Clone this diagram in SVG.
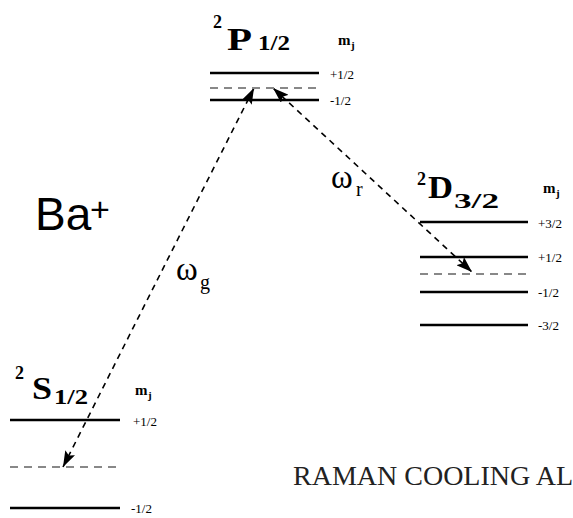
<svg xmlns="http://www.w3.org/2000/svg" width="573" height="518" viewBox="0 0 573 518">
<defs>
<style>
.lvl{stroke:#000;stroke-width:2.5;fill:none}
.vl{stroke:#888;stroke-width:2;stroke-dasharray:8 6;fill:none}
.tr{stroke:#000;stroke-width:1.6;stroke-dasharray:6 5;fill:none}
</style>
<marker id="ah" viewBox="0 0 16 11" refX="16" refY="5.5" markerWidth="16" markerHeight="11" markerUnits="userSpaceOnUse" orient="auto-start-reverse">
<path d="M0,0 L16,5.5 L0,11 L3,5.5 Z" fill="#000"/>
</marker>
</defs>
<rect width="573" height="518" fill="#fff"/>

<g id="connectors">
<line class="tr" x1="63" y1="467" x2="254" y2="88" marker-start="url(#ah)" marker-end="url(#ah)"/>
<line class="tr" x1="273" y1="88" x2="472" y2="272" marker-start="url(#ah)" marker-end="url(#ah)"/>
</g>

<g id="P12" font-family="'Liberation Serif', 'Times New Roman', serif" fill="#000">
<text font-weight="bold" x="213" y="28" font-size="18">2<tspan x="227" y="50" font-size="32" textLength="25" lengthAdjust="spacingAndGlyphs">P</tspan><tspan x="258" y="50" font-size="22" textLength="32" lengthAdjust="spacingAndGlyphs">1/2</tspan></text>
<text font-weight="bold" x="338" y="45" font-size="15">m<tspan x="351" y="49" font-size="11">j</tspan></text>
<line class="lvl" x1="210" y1="73" x2="319" y2="73"/>
<line class="vl" x1="210" y1="88" x2="319" y2="88"/>
<line class="lvl" x1="210" y1="100" x2="319" y2="100"/>
<text x="330" y="79" font-size="13">+1/2</text>
<text x="330" y="105" font-size="13">-1/2</text>
</g>

<g id="D32" font-family="'Liberation Serif', 'Times New Roman', serif" fill="#000">
<text font-weight="bold" x="417" y="185" font-size="18">2<tspan x="428" y="198" font-size="32" textLength="25" lengthAdjust="spacingAndGlyphs">D</tspan><tspan x="454" y="208" font-size="22" textLength="45" lengthAdjust="spacingAndGlyphs">3/2</tspan></text>
<text font-weight="bold" x="543" y="193" font-size="15">m<tspan x="556" y="197" font-size="11">j</tspan></text>
<line class="lvl" x1="420" y1="222" x2="528" y2="222"/>
<line class="lvl" x1="420" y1="257" x2="528" y2="257"/>
<line class="vl" x1="420" y1="274" x2="528" y2="274"/>
<line class="lvl" x1="420" y1="292" x2="528" y2="292"/>
<line class="lvl" x1="420" y1="325" x2="528" y2="325"/>
<text x="538" y="228" font-size="13">+3/2</text>
<text x="538" y="262" font-size="13">+1/2</text>
<text x="538" y="297" font-size="13">-1/2</text>
<text x="538" y="330" font-size="13">-3/2</text>
</g>

<g id="S12" font-family="'Liberation Serif', 'Times New Roman', serif" fill="#000">
<text font-weight="bold" x="15" y="379" font-size="18">2<tspan x="32" y="399" font-size="32" textLength="20" lengthAdjust="spacingAndGlyphs">S</tspan><tspan x="54" y="404" font-size="22" textLength="34" lengthAdjust="spacingAndGlyphs">1/2</tspan></text>
<text font-weight="bold" x="135" y="395" font-size="15">m<tspan x="148" y="399" font-size="11">j</tspan></text>
<line class="lvl" x1="10" y1="420" x2="120" y2="420"/>
<line class="vl" x1="10" y1="467" x2="120" y2="467"/>
<line class="lvl" x1="10" y1="508" x2="120" y2="508"/>
<text x="133" y="426" font-size="13">+1/2</text>
<text x="131" y="513" font-size="13">-1/2</text>
</g>

<g id="labels" font-family="'Liberation Serif', 'Times New Roman', serif" fill="#000">
<text x="176" y="280" font-size="33">ω<tspan x="200" y="289" font-size="20">g</tspan></text>
<text x="331" y="188" font-size="33">ω<tspan x="356" y="196" font-size="20">r</tspan></text>
<text x="35" y="230" font-family="'Liberation Sans', Arial, sans-serif" font-size="46">Ba<tspan x="90" y="221" font-size="34">+</tspan></text>
<text x="293" y="485" font-size="28" fill="#222">RAMAN COOLING AL</text>
</g>
</svg>
